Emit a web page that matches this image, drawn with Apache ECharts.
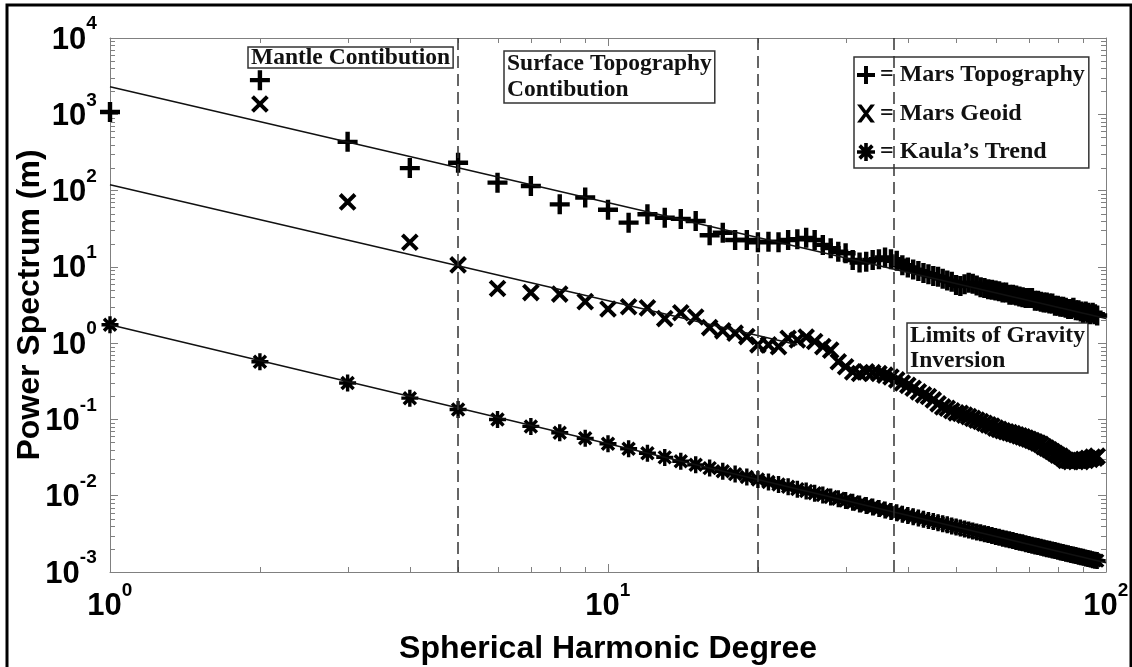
<!DOCTYPE html>
<html>
<head>
<meta charset="utf-8">
<script src="https://cdn.jsdelivr.net/npm/echarts@6/dist/echarts.min.js"></script>
<style>
html, body { margin: 0; padding: 0; background: #fff; }
#chart { width: 1132px; height: 667px; }
</style>
</head>
<body>
<div id="chart"></div>
<script>
// spherical harmonic degree of every point
const degrees = [
    1, 2, 3, 4, 5, 6, 7, 8, 9, 10, 11, 12, 13, 14, 15, 16, 17, 18, 19, 20,
    21, 22, 23, 24, 25, 26, 27, 28, 29, 30, 31, 32, 33, 34, 35, 36, 37, 38, 39, 40,
    41, 42, 43, 44, 45, 46, 47, 48, 49, 50, 51, 52, 53, 54, 55, 56, 57, 58, 59, 60,
    61, 62, 63, 64, 65, 66, 67, 68, 69, 70, 71, 72, 73, 74, 75, 76, 77, 78, 79, 80,
    81, 82, 83, 84, 85, 86, 87, 88, 89, 90, 91, 92, 93, 94, 95, 96
];
const topography = [
    1070, 2800, 435, 197, 232, 127, 115, 66, 81, 56,
    38, 49, 44, 42.5, 40, 26, 28, 22.5, 22.5, 21,
    21.4, 21, 22.5, 23, 24, 22.5, 19.4, 17.6, 15.8, 15.1,
    12.3, 11.4, 11.7, 12.3, 12.6, 13.3, 12.6, 12, 10.5, 9.8,
    9.2, 8.8, 8.3, 8.0, 7.6, 7.4, 7.0, 6.6, 6.4, 5.8,
    5.6, 5.9, 6.2, 6.0, 5.7, 5.4, 5.3, 5.1, 5.0, 4.9,
    4.8, 4.6, 4.6, 4.3, 4.3, 4.2, 4.1, 4.0, 3.9, 3.9,
    3.9, 3.6, 3.6, 3.5, 3.4, 3.4, 3.3, 3.3, 3.1, 3.1,
    3.0, 3.0, 2.9, 2.8, 2.8, 2.9, 2.7, 2.7, 2.6, 2.5,
    2.6, 2.5, 2.4, 2.5, 2.4, 2.3
];
const geoid = [
    null, 1365, 71, 21, 10.6, 5.2, 4.6, 4.4, 3.5, 2.8,
    3.0, 2.9, 2.1, 2.5, 2.2, 1.6, 1.45, 1.35, 1.22, 0.95,
    0.95, 0.9, 1.16, 1.1, 1.2, 1.05, 0.9, 0.81, 0.57, 0.49,
    0.42, 0.40, 0.42, 0.41, 0.40, 0.38, 0.36, 0.33, 0.30, 0.28,
    0.256, 0.23, 0.21, 0.20, 0.18, 0.16, 0.146, 0.14, 0.13, 0.122,
    0.12, 0.114, 0.109, 0.103, 0.098, 0.094, 0.089, 0.085, 0.082, 0.077,
    0.074, 0.071, 0.069, 0.067, 0.065, 0.063, 0.061, 0.059, 0.057, 0.055,
    0.053, 0.051, 0.049, 0.047, 0.044, 0.042, 0.040, 0.038, 0.036, 0.034,
    0.033, 0.031, 0.029, 0.029, 0.028, 0.029, 0.028, 0.029, 0.028, 0.030,
    0.029, 0.031, 0.030, 0.032, 0.031, 0.033
];
const kaula = [
    1.74, 0.57, 0.30, 0.19, 0.135, 0.10, 0.081, 0.067, 0.0565, 0.0479,
    0.0413, 0.0361, 0.0318, 0.0283, 0.0254, 0.0230, 0.0209, 0.0192, 0.0176, 0.0163,
    0.0151, 0.0140, 0.0131, 0.0122, 0.0115, 0.0108, 0.0102, 0.00962, 0.00910, 0.00863,
    0.00820, 0.00781, 0.00744, 0.00710, 0.00679, 0.00650, 0.00622, 0.00597, 0.00573, 0.00551,
    0.00530, 0.00511, 0.00493, 0.00475, 0.00459, 0.00443, 0.00429, 0.00415, 0.00402, 0.00389,
    0.00377, 0.00366, 0.00355, 0.00345, 0.00335, 0.00326, 0.00317, 0.00309, 0.00301, 0.00293,
    0.00285, 0.00278, 0.00271, 0.00265, 0.00258, 0.00252, 0.00246, 0.00241, 0.00235, 0.00230,
    0.00225, 0.00220, 0.00216, 0.00211, 0.00207, 0.00202, 0.00198, 0.00194, 0.00191, 0.00187,
    0.00183, 0.00180, 0.00176, 0.00173, 0.00170, 0.00167, 0.00164, 0.00161, 0.00158, 0.00156,
    0.00153, 0.00150, 0.00148, 0.00145, 0.00143, 0.00141
];

// power-law fits, end points only
const fitTopography = [[1, 2300], [100, 2.1]];
const fitGeoid = [[1, 119], [24, 0.95]];
const fitKaula = [[1, 1.74], [100, 0.00132]];

// vertical dashed region limits (degree)
const regionLimits = [5, 20, 37.5];

const seriesNames = ["Mars Topography", "Mars Geoid", "Kaula\u2019s Trend"];

const xTickValues = [1, 10, 100];
const xTickExps = ["0", "1", "2"];
const yTickValues = [1e-3, 1e-2, 1e-1, 1, 10, 100, 1e3, 1e4];
const yTickExps = ["-3", "-2", "-1", "0", "1", "2", "3", "4"];
const minorMantissas = [2, 3, 4, 5, 6, 7, 8, 9];

const xMinorTicks = [];
const yMinorTicks = [];
xTickValues.slice(0, -1).forEach(d => minorMantissas.forEach(m => xMinorTicks.push(m * d)));
yTickValues.slice(0, -1).forEach(d => minorMantissas.forEach(m => yMinorTicks.push(m * d)));

const axisGray = "#808080";
const sansFont = "Liberation Sans";
const serifFont = "Liberation Serif";

const plusPath = "path://M-2.2,-10L2.2,-10L2.2,10L-2.2,10ZM-10,-2.2L10,-2.2L10,2.2L-10,2.2Z";
const crossPath = "path://M-1.9,-10L1.9,-10L1.9,10L-1.9,10ZM-10,-1.9L10,-1.9L10,1.9L-10,1.9Z";
const starPath = "path://M-1.6,-8L1.6,-8L1.6,8L-1.6,8Z" +
    "M-8,-1.6L8,-1.6L8,1.6L-8,1.6Z" +
    "M-6.8,-4.5L-4.5,-6.8L6.8,4.5L4.5,6.8Z" +
    "M-6.8,4.5L4.5,-6.8L6.8,-4.5L-4.5,6.8Z";
const xLetterPath = "path://M-7,-7L-3.6,-7L7,7L3.6,7ZM3.6,-7L7,-7L-3.6,7L-7,7Z";

const pairs = values => degrees.map((d, i) => [d, values[i]]).filter(p => p[1] != null);

const findExp = (values, exps, v) => {
    const i = values.findIndex(t => Math.abs(Math.log10(t) - Math.log10(v)) < 1e-6);
    return i < 0 ? "" : "{b|10}{s|" + exps[i] + "}{h| }";
};

const tickRich = {
    b: { fontFamily: sansFont, fontWeight: "bold", fontSize: 31, lineHeight: 31, verticalAlign: "bottom", color: "#000" },
    s: { fontFamily: sansFont, fontWeight: "bold", fontSize: 19, lineHeight: 19, verticalAlign: "top", color: "#000" },
    h: { fontSize: 1, lineHeight: 41 }
};

function minorTicks(horizontal) {
    return function (params, api) {
        const cs = params.coordSys;
        const p = api.coord([api.value(0), api.value(1)]);
        const len = 5;
        const style = { stroke: axisGray, lineWidth: 1 };
        if (horizontal) {
            const x = Math.round(p[0]) + 0.5;
            return {
                type: "group",
                children: [
                    { type: "line", shape: { x1: x, y1: cs.y + cs.height, x2: x, y2: cs.y + cs.height - len }, style: style },
                    { type: "line", shape: { x1: x, y1: cs.y, x2: x, y2: cs.y + len }, style: style }
                ]
            };
        }
        const y = Math.round(p[1]) + 0.5;
        return {
            type: "group",
            children: [
                { type: "line", shape: { x1: cs.x, y1: y, x2: cs.x + len, y2: y }, style: style },
                { type: "line", shape: { x1: cs.x + cs.width, y1: y, x2: cs.x + cs.width - len, y2: y }, style: style }
            ]
        };
    };
}

const baseAxis = {
    type: "log",
    logBase: 10,
    axisLine: { lineStyle: { color: axisGray, width: 1 } },
    axisTick: { inside: true, length: 8, lineStyle: { color: axisGray } },
    splitLine: { show: false },
    minorTick: { show: false }
};

const chart = echarts.init(document.getElementById("chart"));

const option = {
    animation: false,
    backgroundColor: "#fff",
    grid: { left: 110, right: 26, top: 38, bottom: 95, containLabel: false, outerBoundsMode: "none" },
    xAxis: [Object.assign({}, baseAxis, {
        min: 1,
        max: 100,
        position: "bottom",
        name: "Spherical Harmonic Degree",
        nameLocation: "middle",
        nameGap: 61,
        nameMoveOverlap: false,
        nameTextStyle: { fontFamily: sansFont, fontWeight: "bold", fontSize: 32, color: "#000" },
        axisLabel: {
            margin: 9,
            formatter: v => findExp(xTickValues, xTickExps, v),
            rich: tickRich
        }
    }), Object.assign({}, baseAxis, {
        min: 1,
        max: 100,
        position: "top",
        axisLabel: { show: false }
    })],
    yAxis: [Object.assign({}, baseAxis, {
        min: 1e-3,
        max: 1e4,
        position: "left",
        name: "Power Spectrum (m)",
        nameLocation: "middle",
        nameGap: 64,
        nameMoveOverlap: false,
        nameTextStyle: { fontFamily: sansFont, fontWeight: "bold", fontSize: 32, color: "#000" },
        axisLabel: {
            margin: 13,
            padding: [0, 0, 6, 0],
            formatter: v => findExp(yTickValues, yTickExps, v),
            rich: tickRich
        }
    }), Object.assign({}, baseAxis, {
        min: 1e-3,
        max: 1e4,
        position: "right",
        axisLabel: { show: false }
    })],
    legend: {
        left: 854,
        top: 57,
        orient: "vertical",
        padding: [6, 4, 4, 3],
        itemGap: 14.5,
        itemWidth: 18,
        itemHeight: 18,
        borderColor: "#333",
        borderWidth: 1.5,
        itemStyle: { color: "#000", opacity: 1 },
        data: [
            { name: seriesNames[0], icon: plusPath },
            { name: seriesNames[1], icon: xLetterPath },
            { name: seriesNames[2], icon: starPath }
        ],
        formatter: name => "= " + name,
        textStyle: { fontFamily: serifFont, fontWeight: "bold", fontSize: 24, lineHeight: 24, color: "#111" }
    },
    series: [{
        type: "scatter",
        name: seriesNames[0],
        symbol: plusPath,
        symbolSize: 20,
        clip: false,
        itemStyle: { color: "#000", opacity: 1 },
        data: pairs(topography),
        z: 3
    }, {
        type: "scatter",
        name: seriesNames[1],
        symbol: crossPath,
        symbolSize: 21,
        symbolRotate: 45,
        clip: false,
        itemStyle: { color: "#000", opacity: 1 },
        data: pairs(geoid),
        z: 3
    }, {
        type: "scatter",
        name: seriesNames[2],
        symbol: starPath,
        symbolSize: 17,
        clip: false,
        itemStyle: { color: "#000", opacity: 1 },
        data: pairs(kaula),
        z: 3
    }, {
        type: "line",
        name: "fit topography",
        showSymbol: false,
        silent: true,
        lineStyle: { color: "#111", width: 1.5 },
        data: fitTopography,
        z: 4
    }, {
        type: "line",
        name: "fit geoid",
        showSymbol: false,
        silent: true,
        lineStyle: { color: "#111", width: 1.5 },
        data: fitGeoid,
        z: 4
    }, {
        type: "line",
        name: "fit kaula",
        showSymbol: false,
        silent: true,
        lineStyle: { color: "#111", width: 1.5 },
        data: fitKaula,
        z: 4,
        markLine: {
            silent: true,
            symbol: "none",
            label: { show: false },
            lineStyle: { type: [12, 6], color: "#333", width: 1.5 },
            data: regionLimits.map(v => ({ xAxis: v }))
        }
    }, {
        type: "custom",
        silent: true,
        clip: false,
        renderItem: minorTicks(true),
        data: xMinorTicks.map(v => [v, 1]),
        z: 1
    }, {
        type: "custom",
        silent: true,
        clip: false,
        renderItem: minorTicks(false),
        data: yMinorTicks.map(v => [10, v]),
        z: 1
    }],
    graphic: [{
        type: "rect",
        silent: true,
        shape: { x: 7, y: 5, width: 1124, height: 700 },
        style: { fill: "none", stroke: "#000", lineWidth: 3 }
    }, {
        type: "text",
        silent: true,
        x: 248,
        y: 47,
        style: {
            text: "Mantle Contibution",
            font: "bold 23.5px \"Liberation Serif\"",
            fill: "#111",
            lineHeight: 21,
            padding: [0, 3],
            borderColor: "#333",
            borderWidth: 1.5
        }
    }, {
        type: "text",
        silent: true,
        x: 504,
        y: 51,
        style: {
            text: "Surface Topography\nContibution",
            font: "bold 23.5px \"Liberation Serif\"",
            fill: "#111",
            lineHeight: 26,
            padding: [0, 3],
            borderColor: "#333",
            borderWidth: 1.5
        }
    }, {
        type: "text",
        silent: true,
        x: 907,
        y: 323,
        style: {
            text: "Limits of Gravity\nInversion",
            font: "bold 23.5px \"Liberation Serif\"",
            fill: "#111",
            lineHeight: 25,
            padding: [0, 3],
            borderColor: "#333",
            borderWidth: 1.5
        }
    }]
};

chart.setOption(option);
</script>
</body>
</html>
